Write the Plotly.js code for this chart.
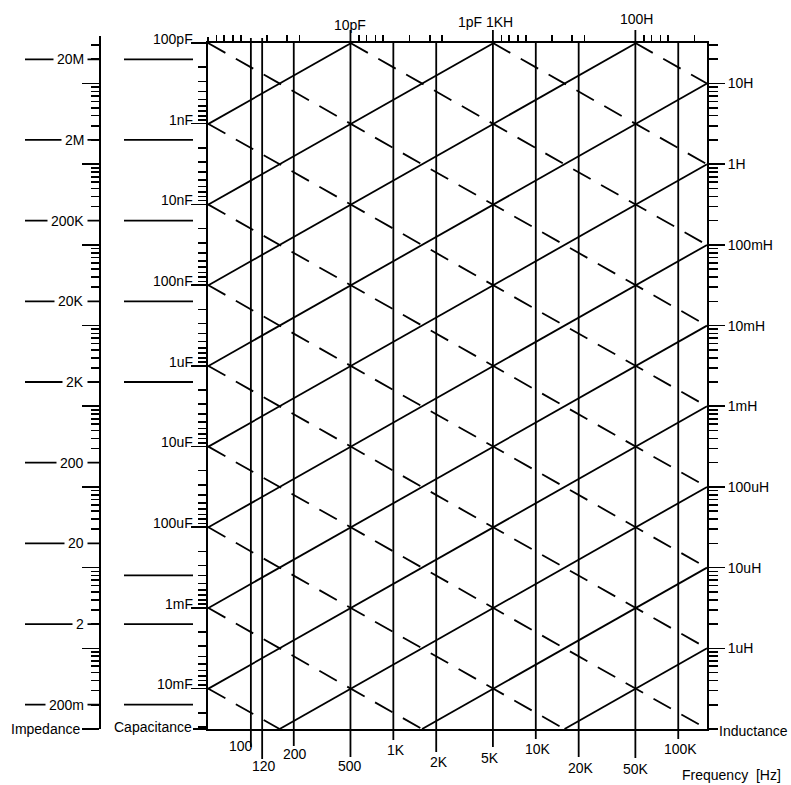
<!DOCTYPE html>
<html>
<head>
<meta charset="utf-8">
<script src="https://cdn.plot.ly/plotly-3.0.1.min.js"></script>
<style>
html,body{margin:0;padding:0;background:#fff;}
#chart{width:791px;height:785px;}
</style>
</head>
<body>
<div id="chart"></div>
<script>
// ================= DATA =================
// Capacitance lines (dashed), in farads
const capValues = [1e-13, 1e-12, 1e-11, 1e-10, 1e-9, 1e-8, 1e-7, 1e-6, 1e-5, 1e-4, 1e-3, 1e-2];
// Inductance lines (solid), in henries
const indValues = [1e-6, 1e-5, 1e-4, 1e-3, 1e-2, 1e-1, 1, 10, 100, 1000, 10000];
// Frequency reference lines (Hz) and their labels
const freqLines  = [100, 120, 200, 500, 1000, 2000, 5000, 10000, 20000, 50000, 100000];
const freqLabels = ["100", "120", "200", "500", "1K", "2K", "5K", "10K", "20K", "50K", "100K"];
// Impedance scale (ohms)
const impTickVals = [2e7, 2e6, 2e5, 2e4, 2e3, 200, 20, 2, 0.2];
const impTickText = ["20M", "2M", "200K", "20K", "2K", "200", "20", "2", "200m"];
// Capacitance scale (left edge of the nomogram)
const capTickVals = [1e-10, 1e-9, 1e-8, 1e-7, 1e-6, 1e-5, 1e-4, 1e-3, 1e-2];
const capTickText = ["100pF", "1nF", "10nF", "100nF", "1uF", "10uF", "100uF", "1mF", "10mF"];
// Inductance scale (right edge of the nomogram)
const indTickVals = [1e-6, 1e-5, 1e-4, 1e-3, 1e-2, 1e-1, 1, 10];
const indTickText = ["1uH", "10uH", "100uH", "1mH", "10mH", "100mH", "1H", "10H"];
// Guide lines drawn left of the capacitance scale (impedance levels, ohms)
const capGuideZ = [2e7, 2e6, 2e5, 2e4, 2e3, 8, 2, 0.2];
// Lines labelled along the top edge
const topCapVals = [1e-11, 1e-12];
const topCapText = ["10pF", "1pF"];
const topIndVals = [1000, 100];
const topIndText = ["1KH", "100H"];
// Small ticks along the top edge: multipliers of each 50*10^n column
const topTickMult = [1.15, 1.3, 1.5, 1.7, 2.6, 3.6, 4.4];
const topTickBase = [50, 500, 5000, 50000];

// ================= SCALES =================
const TWO_PI = 2 * Math.PI;
const lg = Math.log10;
const F_MIN = 50;
const F_MAX = 1 / (TWO_PI * 1e-6);
const C_TOP = 1e-10;
const Z_MAX = 1 / (TWO_PI * F_MIN * C_TOP);
const Z_MIN = 0.1;
const C_BOT = 1 / (TWO_PI * F_MIN * Z_MIN);
const L_TOP = Z_MAX / (TWO_PI * F_MAX);
const L_BOT = Z_MIN / (TWO_PI * F_MAX);

// ================= LAYOUT GEOMETRY (px) =================
const FW = 791, FH = 785;
const PL = 208, PR = 707, PT = 43, PB = 729;
const px = x => x / FW;
const py = y => 1 - y / FH;
const FONT = "Liberation Sans, Arial, Helvetica, sans-serif";
const LW = 1.8;

const freqLineTopPx    = [38, 38, 43, 30, 43, 43, 30, 43, 43, 30, 43];
const freqLineBottomPx = [747, 759, 746, 757, 740, 752, 747, 739, 757, 758, 739];
const freqLabelTopPx   = [737, 757, 745, 757, 741, 753, 749, 740, 759, 760, 740];
const freqLabelShift   = [-10, 2, 1, 0, 3, 3, -3, 2, 2, 1, 2];
const topLabelShift    = [0, -23, 6, 0];
const topLabelBottomPx = [34, 31, 31, 28];

// tick helpers
function minorTicks(eMin, eMax, lo, hi) {
  const out = [];
  for (let e = eMin; e <= eMax; e++) {
    for (let m = 2; m <= 9; m++) {
      const v = m * Math.pow(10, e);
      if (v >= lo * 0.9999 && v <= hi * 1.0001) out.push(v);
    }
  }
  return out;
}
function decades(eMin, eMax) {
  const out = [];
  for (let e = eMin; e <= eMax; e++) out.push(Math.pow(10, e));
  return out;
}
const capMinor = minorTicks(-11, -2, C_TOP, C_BOT);
const impMajor = decades(-1, 7);
const impMinor = minorTicks(-1, 7, Z_MIN, Z_MAX);
const indMinor = minorTicks(-7, 1, L_BOT, L_TOP);
const topTicks = [];
topTickBase.forEach(b => topTickMult.forEach(m => { if (b * m < F_MAX) topTicks.push(b * m); }));

// ================= TRACES =================
const traces = [];
const dashLine = {color: "#000", width: LW, dash: "20px,12px"};
const solidLine = {color: "#000", width: LW};

capValues.forEach(C => {
  const f0 = Math.max(F_MIN, 1 / (TWO_PI * Z_MAX * C));
  const f1 = Math.min(F_MAX, 1 / (TWO_PI * Z_MIN * C));
  if (f1 <= f0) return;
  traces.push({
    type: "scatter", mode: "lines", xaxis: "x", yaxis: "y",
    x: [f0, f1], y: [1 / (TWO_PI * f0 * C), 1 / (TWO_PI * f1 * C)],
    line: dashLine, hoverinfo: "skip", showlegend: false
  });
});
indValues.forEach(L => {
  const f0 = Math.max(F_MIN, Z_MIN / (TWO_PI * L));
  const f1 = Math.min(F_MAX, Z_MAX / (TWO_PI * L));
  if (f1 <= f0) return;
  traces.push({
    type: "scatter", mode: "lines", xaxis: "x", yaxis: "y",
    x: [f0, f1], y: [TWO_PI * f0 * L, TWO_PI * f1 * L],
    line: solidLine, hoverinfo: "skip", showlegend: false
  });
});
// invisible anchors so every scale axis is instantiated
const ghost = {type: "scatter", mode: "markers", marker: {opacity: 0, size: 1}, hoverinfo: "skip", showlegend: false};
traces.push(Object.assign({}, ghost, {xaxis: "x", yaxis: "y2", x: capTickVals.map(() => F_MIN), y: capTickVals}));
traces.push(Object.assign({}, ghost, {xaxis: "x", yaxis: "y3", x: impTickVals.map(() => F_MIN), y: impTickVals}));
traces.push(Object.assign({}, ghost, {xaxis: "x", yaxis: "y4", x: indTickVals.map(() => F_MAX), y: indTickVals}));
traces.push(Object.assign({}, ghost, {xaxis: "x2", yaxis: "y", x: freqLines, y: freqLines.map(() => Z_MAX)}));

// ================= SHAPES =================
const shapes = [];
const blk = w => ({color: "#000", width: w});
freqLines.forEach((f, i) => {
  shapes.push({type: "line", xref: "x", yref: "paper", x0: f, x1: f,
    y0: py(freqLineBottomPx[i]), y1: py(freqLineTopPx[i]), line: blk(LW)});
});
impTickVals.forEach(v => {
  shapes.push({type: "line", xref: "paper", yref: "y3", x0: px(25), x1: px(100), y0: v, y1: v, line: blk(LW)});
});
capGuideZ.forEach(v => {
  shapes.push({type: "line", xref: "paper", yref: "y3", x0: px(124), x1: px(193), y0: v, y1: v, line: blk(LW)});
});
// frame extensions
shapes.push({type: "line", xref: "paper", yref: "paper", x0: px(193), x1: px(PL), y0: py(PB), y1: py(PB), line: blk(2)});
shapes.push({type: "line", xref: "paper", yref: "paper", x0: px(PR), x1: px(718), y0: py(PB), y1: py(PB), line: blk(2)});
shapes.push({type: "line", xref: "paper", yref: "paper", x0: px(198), x1: px(PL), y0: py(PT), y1: py(PT), line: blk(2)});
shapes.push({type: "line", xref: "paper", yref: "paper", x0: px(PL), x1: px(PL), y0: py(PT), y1: py(37), line: blk(2)});
shapes.push({type: "line", xref: "paper", yref: "paper", x0: px(100), x1: px(100), y0: py(PT), y1: py(36), line: blk(2)});

// ================= ANNOTATIONS =================
const annotations = [];
const tf = {family: FONT, size: 14, color: "#000"};
freqLines.forEach((f, i) => {
  annotations.push({xref: "x", yref: "paper", x: lg(f), y: py(freqLabelTopPx[i]), xanchor: "center", yanchor: "top",
    xshift: freqLabelShift[i], text: freqLabels[i], showarrow: false, font: tf, borderpad: 0});
});
impTickVals.forEach((v, i) => {
  annotations.push({xref: "paper", yref: "y3", x: px(88), y: lg(v), xanchor: "right", yanchor: "middle",
    text: impTickText[i], showarrow: false, font: tf, bgcolor: "#fff", borderpad: 3});
});
capTickVals.forEach((v, i) => {
  annotations.push({xref: "paper", yref: "y2", x: px(194), y: lg(v), xanchor: "right", yanchor: "middle", yshift: 4,
    text: capTickText[i], showarrow: false, font: tf, borderpad: 0});
});
const topItems = [];
topCapVals.forEach((C, i) => topItems.push({f: 1 / (TWO_PI * Z_MAX * C), text: topCapText[i]}));
topIndVals.forEach((L, i) => topItems.push({f: Z_MAX / (TWO_PI * L), text: topIndText[i]}));
topItems.forEach((it, i) => {
  annotations.push({xref: "x", yref: "paper", x: lg(it.f), y: py(topLabelBottomPx[i]), xanchor: "center", yanchor: "bottom",
    xshift: topLabelShift[i], text: it.text, showarrow: false, font: tf, borderpad: 0});
});
annotations.push({xref: "paper", yref: "paper", x: px(81), y: py(729), xanchor: "right", yanchor: "middle",
  text: "Impedance", showarrow: false, font: tf, borderpad: 0});
annotations.push({xref: "paper", yref: "paper", x: px(193), y: py(727), xanchor: "right", yanchor: "middle",
  text: "Capacitance", showarrow: false, font: tf, borderpad: 0});
annotations.push({xref: "paper", yref: "paper", x: px(718), y: py(731), xanchor: "left", yanchor: "middle",
  text: "Inductance", showarrow: false, font: tf, borderpad: 0});
annotations.push({xref: "paper", yref: "paper", x: px(681), y: py(775), xanchor: "left", yanchor: "middle",
  text: "Frequency  [Hz]", showarrow: false, font: tf, borderpad: 0});

// ================= AXES =================
const base = {type: "log", showgrid: false, zeroline: false, fixedrange: true, linecolor: "#000", tickcolor: "#000", automargin: false};
const minorBase = {ticks: "outside", tickwidth: 1.6, tickcolor: "#000", showgrid: false, tickmode: "array"};

const layout = {
  width: FW, height: FH,
  margin: {l: 0, r: 0, t: 0, b: 0, pad: 0},
  paper_bgcolor: "#fff", plot_bgcolor: "#fff",
  showlegend: false,
  font: tf,
  xaxis: Object.assign({}, base, {
    range: [lg(F_MIN), lg(F_MAX)], domain: [px(PL), px(PR)], anchor: "y",
    showline: true, linewidth: 2, ticks: "", showticklabels: false
  }),
  xaxis2: Object.assign({}, base, {
    range: [lg(F_MIN), lg(F_MAX)], overlaying: "x", side: "top", anchor: "y",
    showline: true, linewidth: 2, ticks: "outside", ticklen: 6, tickwidth: 1.6,
    tickmode: "array", tickvals: topTicks, showticklabels: false
  }),
  yaxis: Object.assign({}, base, {
    range: [lg(Z_MIN), lg(Z_MAX)], domain: [py(PB), py(PT)], anchor: "x",
    showline: false, ticks: "", showticklabels: false
  }),
  yaxis2: Object.assign({}, base, {
    range: [lg(C_BOT), lg(C_TOP)], overlaying: "y", anchor: "x", side: "left",
    showline: true, linewidth: 2, ticks: "outside", ticklen: 15, tickwidth: 1.6,
    tickmode: "array", tickvals: capTickVals, showticklabels: false,
    minor: Object.assign({}, minorBase, {tickvals: capMinor, ticklen: 8})
  }),
  yaxis3: Object.assign({}, base, {
    range: [lg(Z_MIN), lg(Z_MAX)], overlaying: "y", anchor: "free", position: px(100), side: "left",
    showline: true, linewidth: 2, ticks: "outside", ticklen: 17, tickwidth: 1.6,
    tickmode: "array", tickvals: impMajor, showticklabels: false,
    minor: Object.assign({}, minorBase, {tickvals: impMinor, ticklen: 8})
  }),
  yaxis4: Object.assign({}, base, {
    range: [lg(L_BOT), lg(L_TOP)], overlaying: "y", anchor: "x", side: "right",
    showline: true, linewidth: 2, ticks: "outside", ticklen: 16, tickwidth: 1.6,
    tickmode: "array", tickvals: indTickVals, ticktext: indTickText, showticklabels: true,
    tickfont: tf,
    minor: Object.assign({}, minorBase, {tickvals: indMinor, ticklen: 9})
  }),
  shapes: shapes,
  annotations: annotations
};

Plotly.newPlot("chart", traces, layout, {staticPlot: true, displayModeBar: false});
</script>
</body>
</html>
